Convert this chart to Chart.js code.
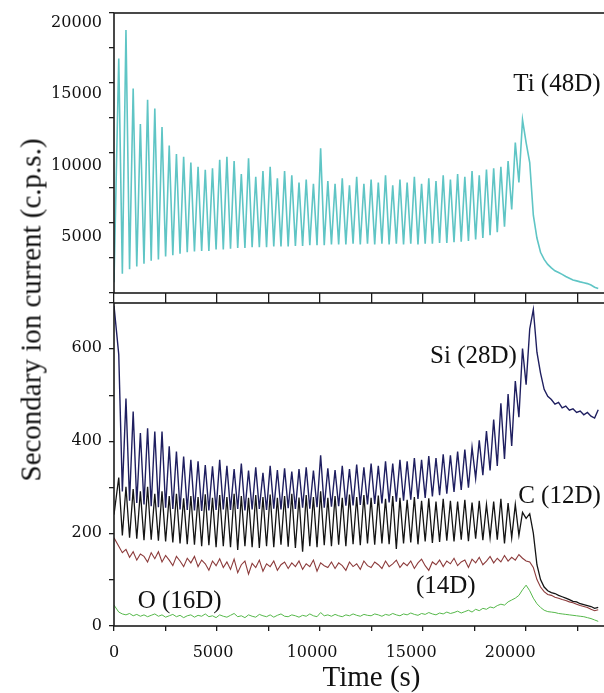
<!DOCTYPE html>
<html>
<head>
<meta charset="utf-8">
<script src="https://cdn.jsdelivr.net/npm/chart.js@4.4.1/dist/chart.umd.min.js"></script>
<style>
  html, body { margin: 0; padding: 0; background: #fff; overflow: hidden; }
  body { width: 604px; height: 693px; position: relative; }
  #topChart { position: absolute; left: 0; top: 0; }
  #bottomChart { position: absolute; left: 0; top: 296px; }
  #yTitle {
    position: absolute; left: 31px; top: 310px;
    transform: translate(-50%, -50%) rotate(-90deg);
    font: 29px "Liberation Serif"; color: #111; white-space: nowrap;
  }
</style>
</head>
<body>
<canvas id="topChart" width="630" height="300"></canvas>
<canvas id="bottomChart" width="630" height="397"></canvas>
<div id="yTitle">Secondary ion current (c.p.s.)</div>
<script>
// sample times (s), shared by every trace
const timeS = [0, 240, 422, 604, 786, 968, 1150, 1332, 1514, 1696, 1878,
  2060, 2242, 2424, 2606, 2788, 2970, 3152, 3334, 3516, 3698,
  3880, 4062, 4244, 4426, 4608, 4790, 4972, 5154, 5336, 5518,
  5700, 5882, 6064, 6246, 6428, 6610, 6792, 6974, 7156, 7338,
  7520, 7702, 7884, 8066, 8248, 8430, 8612, 8794, 8976, 9158,
  9340, 9522, 9704, 9886, 10068, 10250, 10432, 10614, 10796, 10978,
  11160, 11342, 11524, 11706, 11888, 12070, 12252, 12434, 12616, 12798,
  12980, 13162, 13344, 13526, 13708, 13890, 14072, 14254, 14436, 14618,
  14800, 14982, 15164, 15346, 15528, 15710, 15892, 16074, 16256, 16438,
  16620, 16802, 16984, 17166, 17348, 17530, 17712, 17894, 18076, 18258,
  18440, 18622, 18804, 18986, 19168, 19350, 19532, 19714, 19896, 20078,
  20260, 20442, 20624, 20806, 20988, 21170, 21352, 21534, 21716, 21898,
  22080, 22262, 22444, 22626, 22808, 22990, 23172, 23354, 23536, 23718,
  23900, 24082, 24264, 24446];

// tick labels
const timeTicks = [0, 5000, 10000, 15000, 20000];
const tiTicks = [5000, 10000, 15000, 20000];
const lowTicks = [0, 200, 400, 600];

// Ti (48D), top panel
const ti48 = [1800, 17500, 2400, 19500, 2700, 15400, 2900, 12900, 3100, 14600, 3300,
  14000, 3400, 12700, 3600, 11400, 3700, 10800, 3800, 10600, 3900,
  10200, 3950, 9900, 4000, 9700, 4000, 9800, 4100, 10400, 4100,
  10600, 4150, 10300, 4200, 9400, 4200, 10500, 4250, 9200, 4250,
  9600, 4250, 9900, 4300, 9100, 4300, 9600, 4300, 9300, 4350,
  8800, 4350, 9000, 4400, 8700, 4400, 11200, 4400, 8900, 4450,
  8700, 4450, 9100, 4450, 8600, 4500, 9200, 4450, 8700, 4500,
  9000, 4450, 8800, 4500, 9300, 4450, 8600, 4500, 9000, 4450,
  8800, 4500, 9200, 4450, 8700, 4500, 9100, 4500, 8900, 4550,
  9300, 4550, 9000, 4600, 9400, 4650, 9200, 4700, 9600, 4800,
  9300, 4900, 9700, 5100, 9800, 5300, 9900, 5700, 10300, 6900,
  11600, 8800, 13200, 11600, 10200, 6500, 4900, 3900, 3400, 3050,
  2800, 2600, 2480, 2350, 2200, 2080, 1950, 1890, 1820, 1760,
  1700, 1600, 1450, 1350];

// bottom panel traces
const si28 = [690, 585, 290, 490, 270, 462, 265, 416, 262, 426, 258,
  419, 256, 419, 255, 387, 252, 376, 251, 365, 250,
  358, 249, 355, 248, 347, 249, 344, 250, 358, 251,
  345, 250, 338, 252, 350, 249, 335, 251, 342, 252,
  330, 250, 345, 253, 336, 251, 340, 254, 333, 252,
  338, 255, 342, 253, 335, 256, 368, 255, 340, 257,
  336, 258, 345, 259, 338, 260, 348, 261, 342, 262,
  350, 263, 345, 264, 355, 266, 350, 268, 358, 270,
  355, 272, 362, 274, 358, 276, 366, 279, 362, 282,
  370, 285, 368, 289, 376, 293, 380, 298, 385, 318,
  400, 325, 420, 335, 445, 345, 480, 360, 500, 388,
  528, 450, 598, 520, 640, 682, 590, 545, 510, 495,
  488, 478, 482, 470, 474, 465, 468, 460, 463, 455,
  460, 452, 448, 466];

const c12 = [240, 320, 195, 300, 190, 295, 188, 290, 185, 300, 186,
  285, 184, 290, 182, 280, 180, 285, 178, 275, 176,
  280, 175, 278, 172, 284, 174, 276, 170, 282, 172,
  278, 170, 285, 164, 280, 172, 276, 170, 282, 168,
  278, 172, 283, 170, 276, 175, 280, 171, 285, 168,
  277, 160, 282, 172, 278, 170, 290, 174, 276, 172,
  280, 175, 276, 172, 283, 176, 278, 174, 282, 178,
  276, 175, 281, 178, 274, 176, 280, 166, 276, 178,
  272, 180, 278, 176, 270, 182, 275, 179, 268, 181,
  274, 184, 270, 182, 268, 186, 272, 183, 266, 188,
  270, 185, 262, 190, 268, 186, 274, 178, 265, 190,
  262, 195, 245, 232, 242, 200, 132, 100, 84, 76,
  72, 70, 66, 63, 60, 57, 53, 52, 48, 46,
  44, 42, 38, 40];

const n14 = [190, 172, 158, 165, 148, 160, 142, 155, 150, 138, 158,
  145, 160, 138, 152, 142, 130, 150, 140, 128, 146,
  136, 150, 128, 142, 134, 120, 140, 130, 145, 126,
  138, 122, 144, 115, 132, 140, 112, 135, 126, 142,
  118, 134, 128, 140, 120, 132, 138, 124, 136, 128,
  140, 122, 134, 128, 142, 118, 136, 130, 126, 138,
  124, 136, 130, 120, 138, 128, 134, 122, 140, 130,
  126, 138, 132, 124, 140, 128, 134, 142, 126, 136,
  130, 140, 124, 136, 144, 130, 120, 138, 132, 142,
  128, 140, 134, 146, 130, 138, 142, 126, 144, 136,
  148, 132, 140, 150, 136, 146, 138, 152, 140, 148,
  142, 154, 146, 140, 138, 126, 100, 84, 74, 68,
  66, 62, 60, 57, 55, 52, 50, 47, 44, 42,
  40, 36, 33, 35];

const o16 = [45, 30, 26, 24, 27, 22, 25, 21, 24, 20, 23,
  26, 21, 24, 19, 22, 25, 20, 23, 18, 22,
  24, 19, 23, 21, 26, 20, 22, 18, 24, 21,
  19, 23, 27, 20, 22, 18, 24, 21, 19, 25,
  22, 20, 24, 19, 23, 26, 21, 20, 24, 22,
  19, 23, 21, 26, 22, 20, 29, 22, 24, 21,
  25, 22, 20, 24, 22, 26, 23, 21, 25, 23,
  22, 26, 24, 21, 25, 23, 27, 24, 22, 26,
  24, 28, 25, 23, 27, 25, 29, 26, 24, 28,
  26, 30, 27, 29, 32, 28, 31, 34, 30, 36,
  33, 38, 36, 41, 39, 44, 47, 45, 52, 56,
  60, 66, 78, 88, 76, 60, 48, 40, 34, 31,
  30, 29, 27, 26, 25, 24, 23, 22, 21, 20,
  18, 16, 13, 10];

const TICK_FONT = '16px "DejaVu Serif"';
const INK = '#1c1c1c';

function series(vals, color, width) {
  return {
    data: timeS.map((t, i) => ({ x: t, y: vals[i] })),
    xAxisID: 'x', yAxisID: 'y',
    borderColor: color, borderWidth: width,
    pointRadius: 0, tension: 0, fill: false
  };
}

// tick marks only; the numbers are drawn by the tickText plugin
function timeAxis(position, height) {
  return {
    type: 'linear', position, min: 0, max: 26000,
    border: { display: false },
    grid: { drawOnChartArea: false, drawTicks: true, tickLength: 5, color: INK, lineWidth: 1.3 },
    ticks: { stepSize: 2500, display: false, autoSkip: false, includeBounds: false, maxTicksLimit: 20 },
    afterFit: s => { s.height = height; }
  };
}

function countAxis(min, max, step) {
  return {
    type: 'linear', position: 'left', min, max,
    border: { display: false },
    grid: { drawOnChartArea: false, drawTicks: true, tickLength: 5, color: INK, lineWidth: 1.3 },
    ticks: { stepSize: step, display: false, autoSkip: false, includeBounds: false, maxTicksLimit: 20 },
    afterFit: s => { s.width = 114; }
  };
}

// box around each panel
const frame = {
  id: 'frame',
  afterDatasetsDraw(chart) {
    const { ctx, chartArea: a } = chart;
    ctx.save();
    ctx.strokeStyle = INK;
    ctx.lineWidth = 1.6;
    ctx.strokeRect(a.left, a.top, a.right - a.left, a.bottom - a.top);
    ctx.restore();
  }
};

// tick numbers
const tickText = {
  id: 'tickText',
  afterDraw(chart, args, opts) {
    const { ctx, chartArea: a, scales } = chart;
    ctx.save();
    ctx.font = TICK_FONT;
    ctx.fillStyle = '#111';
    ctx.textAlign = 'right';
    ctx.textBaseline = 'middle';
    (opts.y || []).forEach(v => {
      ctx.fillText(String(v), a.left - 12, scales.y.getPixelForValue(v));
    });
    ctx.textAlign = 'center';
    (opts.x || []).forEach(v => {
      ctx.fillText(String(v), scales.x.getPixelForValue(v), a.bottom + 27);
    });
    ctx.restore();
  }
};

// trace names, anchored in data units
const labels = {
  id: 'labels',
  afterDatasetsDraw(chart, args, opts) {
    const { ctx, scales } = chart;
    ctx.save();
    ctx.font = '25px "Liberation Serif"';
    ctx.fillStyle = '#111';
    ctx.textAlign = 'center';
    ctx.textBaseline = 'middle';
    (opts.items || []).forEach(it => {
      ctx.fillText(it.text, scales.x.getPixelForValue(it.x), scales.y.getPixelForValue(it.y));
    });
    ctx.restore();
  }
};

const common = {
  responsive: false,
  animation: false,
  devicePixelRatio: 1,
  events: []
};

new Chart(document.getElementById('topChart'), {
  type: 'line',
  data: { datasets: [series(ti48, '#5fc5c5', 1.6)] },
  options: {
    ...common,
    layout: { padding: { left: 0, right: 1, top: 13, bottom: 0 } },
    plugins: {
      legend: { display: false },
      tooltip: { enabled: false },
      tickText: { y: tiTicks },
      labels: { items: [{ text: 'Ti (48D)', x: 22360, y: 15680 }] }
    },
    scales: {
      x: timeAxis('bottom', 7),
      y: countAxis(1040, 20700, 2500)
    }
  },
  plugins: [frame, tickText, labels]
});

new Chart(document.getElementById('bottomChart'), {
  type: 'line',
  data: {
    datasets: [
      series(si28, '#1f1f60', 1.4),
      series(c12, '#141414', 1.3),
      series(n14, '#8c3b3b', 1.1),
      series(o16, '#55b84a', 1.0)
    ]
  },
  options: {
    ...common,
    layout: { padding: { left: 0, right: 1, top: 0, bottom: 0 } },
    plugins: {
      legend: { display: false },
      tooltip: { enabled: false },
      tickText: { x: timeTicks, y: lowTicks },
      labels: {
        items: [
          { text: 'Si (28D)', x: 18150, y: 580 },
          { text: 'C (12D)', x: 22490, y: 280 },
          { text: '(14D)', x: 16750, y: 86 },
          { text: 'O (16D)', x: 3315, y: 54 }
        ]
      }
    },
    scales: {
      x: {
        ...timeAxis('bottom', 67),
        title: {
          display: true, text: 'Time (s)', color: '#111', padding: 0,
          font: { family: 'Liberation Serif', size: 29, lineHeight: 1 }
        }
      },
      x2: timeAxis('top', 7),
      y: countAxis(0, 696, 100)
    }
  },
  plugins: [frame, tickText, labels]
});
</script>
</body>
</html>
